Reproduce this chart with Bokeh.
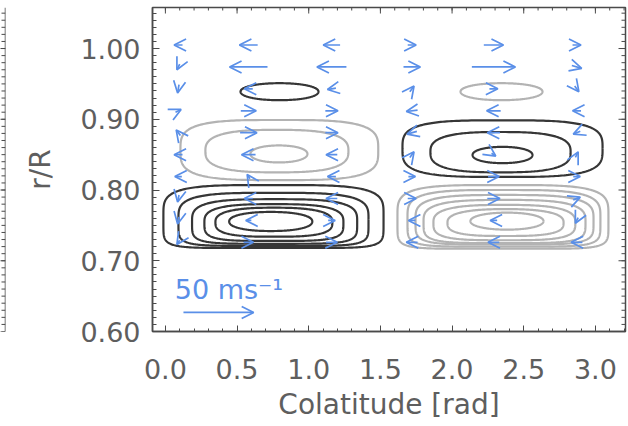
import numpy as np
from bokeh.plotting import figure
from bokeh.layouts import row
from bokeh.models import (ColumnDataSource, Arrow, OpenHead, LinearAxis, Range1d,
                          FixedTicker, NumeralTickFormatter, Label, Span)
from bokeh.embed import file_html
from bokeh.resources import INLINE

# ---------------------------------------------------------------- data
# velocity grid: colatitude columns (rad) and radius rows (r/R)
vec_colat = [0.09, 0.58, 1.16, 1.72, 2.29, 2.87]
vec_r = [1.005, 0.974, 0.943, 0.912, 0.881, 0.850, 0.819, 0.788, 0.757, 0.726]

# meridional velocity (m/s), one list per column, top row first
u_theta = [
    [-6, -2, -1, 4, -3, -6, -5, -1, -1, -2],
    [-13, -27, -6, 11, 12, -10, -2, -6, -4, 7],
    [-12, -21, -6, 9, 9, -8, -6, -8, 5, 8],
    [6, 12, 3, -8, -7, 3, 5, 6, -5, -8],
    [14, 31, 6, -10, -9, 3, 8, 9, -5, -8],
    [6, 7, 3, -6, -5, 2, 5, 5, -2, -8],
]
u_rad = [
    [0, -4, -6, 2, 4, 0, 0, -5, -5, -3],
    [0, 0, 0, 0, 0, 0, 3, 0, 0, 0],
    [0, 0, -1, 0, 0, 0, 0, 0, 0, 0],
    [0, 0, 4, -1, -2, 4, 0, 0, 0, 0],
    [0, 0, 0, 0, 0, -2, 0, 0, 0, 0],
    [0, -2, -4, 0, -2, 4, 0, 2, -4, 0],
]
key_speed = 50  # m/s

# stream-function contours: centre, half-width, half-height,
# squareness of upper/lower half, sign (+1 dark, -1 light)
ring_cx = [0.754, 0.754, 0.762, 0.757, 0.757, 0.735,
           0.795, 0.778, 0.792,
           0.796,
           2.345,
           2.352, 2.338, 2.352,
           2.355, 2.362, 2.366, 2.366, 2.365, 2.373, 2.383]
ring_cy = [0.7625, 0.7585, 0.7555, 0.754, 0.7545, 0.7555,
           0.8565, 0.855, 0.851,
           0.939,
           0.939,
           0.8585, 0.8535, 0.8495,
           0.762, 0.760, 0.758, 0.7555, 0.754, 0.754, 0.756]
ring_a = [0.768, 0.663, 0.576, 0.485, 0.408, 0.290,
          0.690, 0.499, 0.199,
          0.272,
          0.286,
          0.698, 0.489, 0.209,
          0.736, 0.673, 0.621, 0.565, 0.495, 0.405, 0.255]
ring_b = [0.0445, 0.0375, 0.0315, 0.026, 0.0205, 0.0135,
          0.0425, 0.030, 0.012,
          0.012,
          0.012,
          0.040, 0.0285, 0.0115,
          0.045, 0.040, 0.035, 0.0305, 0.025, 0.019, 0.012]
ring_n_top = [4.0, 3.6, 3.3, 3.0, 2.6, 2.2,
              3.5, 2.8, 2.1,
              2.1,
              2.1,
              3.5, 2.8, 2.1,
              4.0, 3.7, 3.4, 3.1, 2.8, 2.5, 2.1]
ring_n_bot = [7.0, 6.0, 5.0, 4.0, 3.0, 2.2,
              3.5, 2.8, 2.1,
              2.1,
              2.1,
              3.5, 2.8, 2.1,
              7.0, 6.0, 5.0, 4.5, 3.5, 3.0, 2.1]
ring_sign = [1, 1, 1, 1, 1, 1,
             -1, -1, -1,
             1,
             -1,
             1, 1, 1,
             -1, -1, -1, -1, -1, -1, -1]

x_ticks = [0.0, 0.5, 1.0, 1.5, 2.0, 2.5, 3.0]
y_ticks = [0.6, 0.7, 0.8, 0.9, 1.0]

# ---------------------------------------------------------------- style
BLUE = "#5a8fe8"
DARK = "#363636"
LIGHT = "#b3b3b3"
TXT = "#5e5e5e"
AX = "#4a4a4a"
FONT = "DejaVu Sans"

X_RANGE = (-0.09, 3.21)
Y_RANGE = (0.6, 1.058)
# arrow scale: 50 m/s spans 0.49 rad horizontally; equal pixel length vertically
KX = 0.49 / key_speed
KY = 0.0986 / key_speed

x_minor = [round(v, 2) for v in np.arange(0.0, 3.21, 0.1)]
y_minor = [round(v, 3) for v in np.arange(0.6, 1.058, 0.01)]


def style_axis(ax, tick_in, minor_in):
    ax.axis_line_color = AX
    ax.axis_line_width = 1.5
    ax.major_tick_line_color = AX
    ax.minor_tick_line_color = AX
    ax.major_tick_in = tick_in
    ax.major_tick_out = 0
    ax.minor_tick_in = minor_in
    ax.minor_tick_out = 0
    ax.major_label_text_font = FONT
    ax.major_label_text_color = TXT
    ax.major_label_text_font_size = "27px"
    ax.axis_label_text_font = FONT
    ax.axis_label_text_color = TXT
    ax.axis_label_text_font_style = "normal"
    ax.axis_label_text_font_size = "28px"


def inward_ticks(fig, along, ticks, minor, edge, angle, major_len, minor_len):
    """Tick marks on an unlabelled edge, drawn as short screen-length rays."""
    for vals, ln in ((minor, minor_len), (ticks, major_len)):
        if along == "x":
            fig.ray(x=vals, y=[edge] * len(vals), length=ln, length_units="screen",
                    angle=angle, line_color=AX, line_width=1)
        else:
            fig.ray(x=[edge] * len(vals), y=vals, length=ln, length_units="screen",
                    angle=angle, line_color=AX, line_width=1)


p = figure(width=620, height=426, x_range=Range1d(*X_RANGE), y_range=Range1d(*Y_RANGE),
           output_backend="svg", toolbar_location=None,
           x_axis_location=None, y_axis_location=None,
           min_border_left=144, min_border_right=3, min_border_top=7, min_border_bottom=95,
           outline_line_color=AX, outline_line_width=1.5,
           background_fill_color="white", border_fill_color="white")
p.grid.visible = False

xt = FixedTicker(ticks=x_ticks, minor_ticks=x_minor)
yt = FixedTicker(ticks=y_ticks, minor_ticks=y_minor)

bottom = LinearAxis(ticker=xt, formatter=NumeralTickFormatter(format="0.0"),
                    axis_label="Colatitude [rad]")
style_axis(bottom, 6, 3)
bottom.major_label_standoff = 27
bottom.axis_label_standoff = 6
p.add_layout(bottom, "below")

left = LinearAxis(ticker=yt, formatter=NumeralTickFormatter(format="0.00"), axis_label="r/R")
style_axis(left, 7, 4)
left.major_label_standoff = 12
left.axis_label_standoff = 20
p.add_layout(left, "left")

# ticks on the top and right edges, pointing inward
inward_ticks(p, "x", x_ticks, x_minor, Y_RANGE[1], -np.pi / 2, 6, 3)
inward_ticks(p, "y", y_ticks, y_minor, X_RANGE[1], np.pi, 7, 4)

# contour rings
t = np.linspace(0, 2 * np.pi, 241)
xs, ys, cols = [], [], []
for cx, cy, a, b, nt, nb, s in zip(ring_cx, ring_cy, ring_a, ring_b,
                                   ring_n_top, ring_n_bot, ring_sign):
    c, sn = np.cos(t), np.sin(t)
    n = np.where(sn >= 0, nt, nb)
    xs.append(cx + a * np.sign(c) * np.abs(c) ** (2.0 / n))
    ys.append(cy + b * np.sign(sn) * np.abs(sn) ** (2.0 / n))
    cols.append(DARK if s > 0 else LIGHT)
# light rings first, dark on top
order = sorted(range(len(xs)), key=lambda i: ring_sign[i])
p.multi_line(xs=[xs[i] for i in order], ys=[ys[i] for i in order],
             line_color=[cols[i] for i in order], line_width=2.2)

# velocity arrows, centred on the grid points
x0, y0, x1, y1 = [], [], [], []
for ci, th in enumerate(vec_colat):
    for ri, r in enumerate(vec_r):
        dx = u_theta[ci][ri] * KX
        dy = u_rad[ci][ri] * KY
        x0.append(th - dx / 2)
        x1.append(th + dx / 2)
        y0.append(r - dy / 2)
        y1.append(r + dy / 2)
vec_src = ColumnDataSource(dict(x0=x0, y0=y0, x1=x1, y1=y1))
p.add_layout(Arrow(source=vec_src, x_start="x0", y_start="y0", x_end="x1", y_end="y1",
                   line_color=BLUE, line_width=1.7,
                   end=OpenHead(size=12, line_color=BLUE, line_width=1.7)))

# reference arrow
key_x0, key_y = 0.126, 0.627
key_src = ColumnDataSource(dict(x0=[key_x0], x1=[key_x0 + key_speed * KX], y=[key_y]))
p.add_layout(Arrow(source=key_src, x_start="x0", y_start="y", x_end="x1", y_end="y",
                   line_color=BLUE, line_width=1.7,
                   end=OpenHead(size=12, line_color=BLUE, line_width=1.7)))
p.add_layout(Label(x=0.065, y=0.637, text="50 ms\u207b\u00b9", text_color=BLUE,
                   text_font=FONT, text_font_size="27px", text_baseline="bottom"))

# edge of the neighbouring panel
side = figure(width=8, height=426, x_range=Range1d(0, 1), y_range=Range1d(*Y_RANGE),
              output_backend="svg", toolbar_location=None,
              x_axis_location=None, y_axis_location=None,
              min_border_left=0, min_border_right=3, min_border_top=7, min_border_bottom=95,
              outline_line_color=None, border_fill_color="white", background_fill_color="white")
side.grid.visible = False
side.add_layout(Span(location=1, dimension="height", line_color=AX, line_width=1.5))
inward_ticks(side, "y", y_ticks, y_minor, 1, np.pi, 7, 4)

layout = row(side, p, spacing=0)
open("out.html", "w").write(file_html(layout, INLINE))
